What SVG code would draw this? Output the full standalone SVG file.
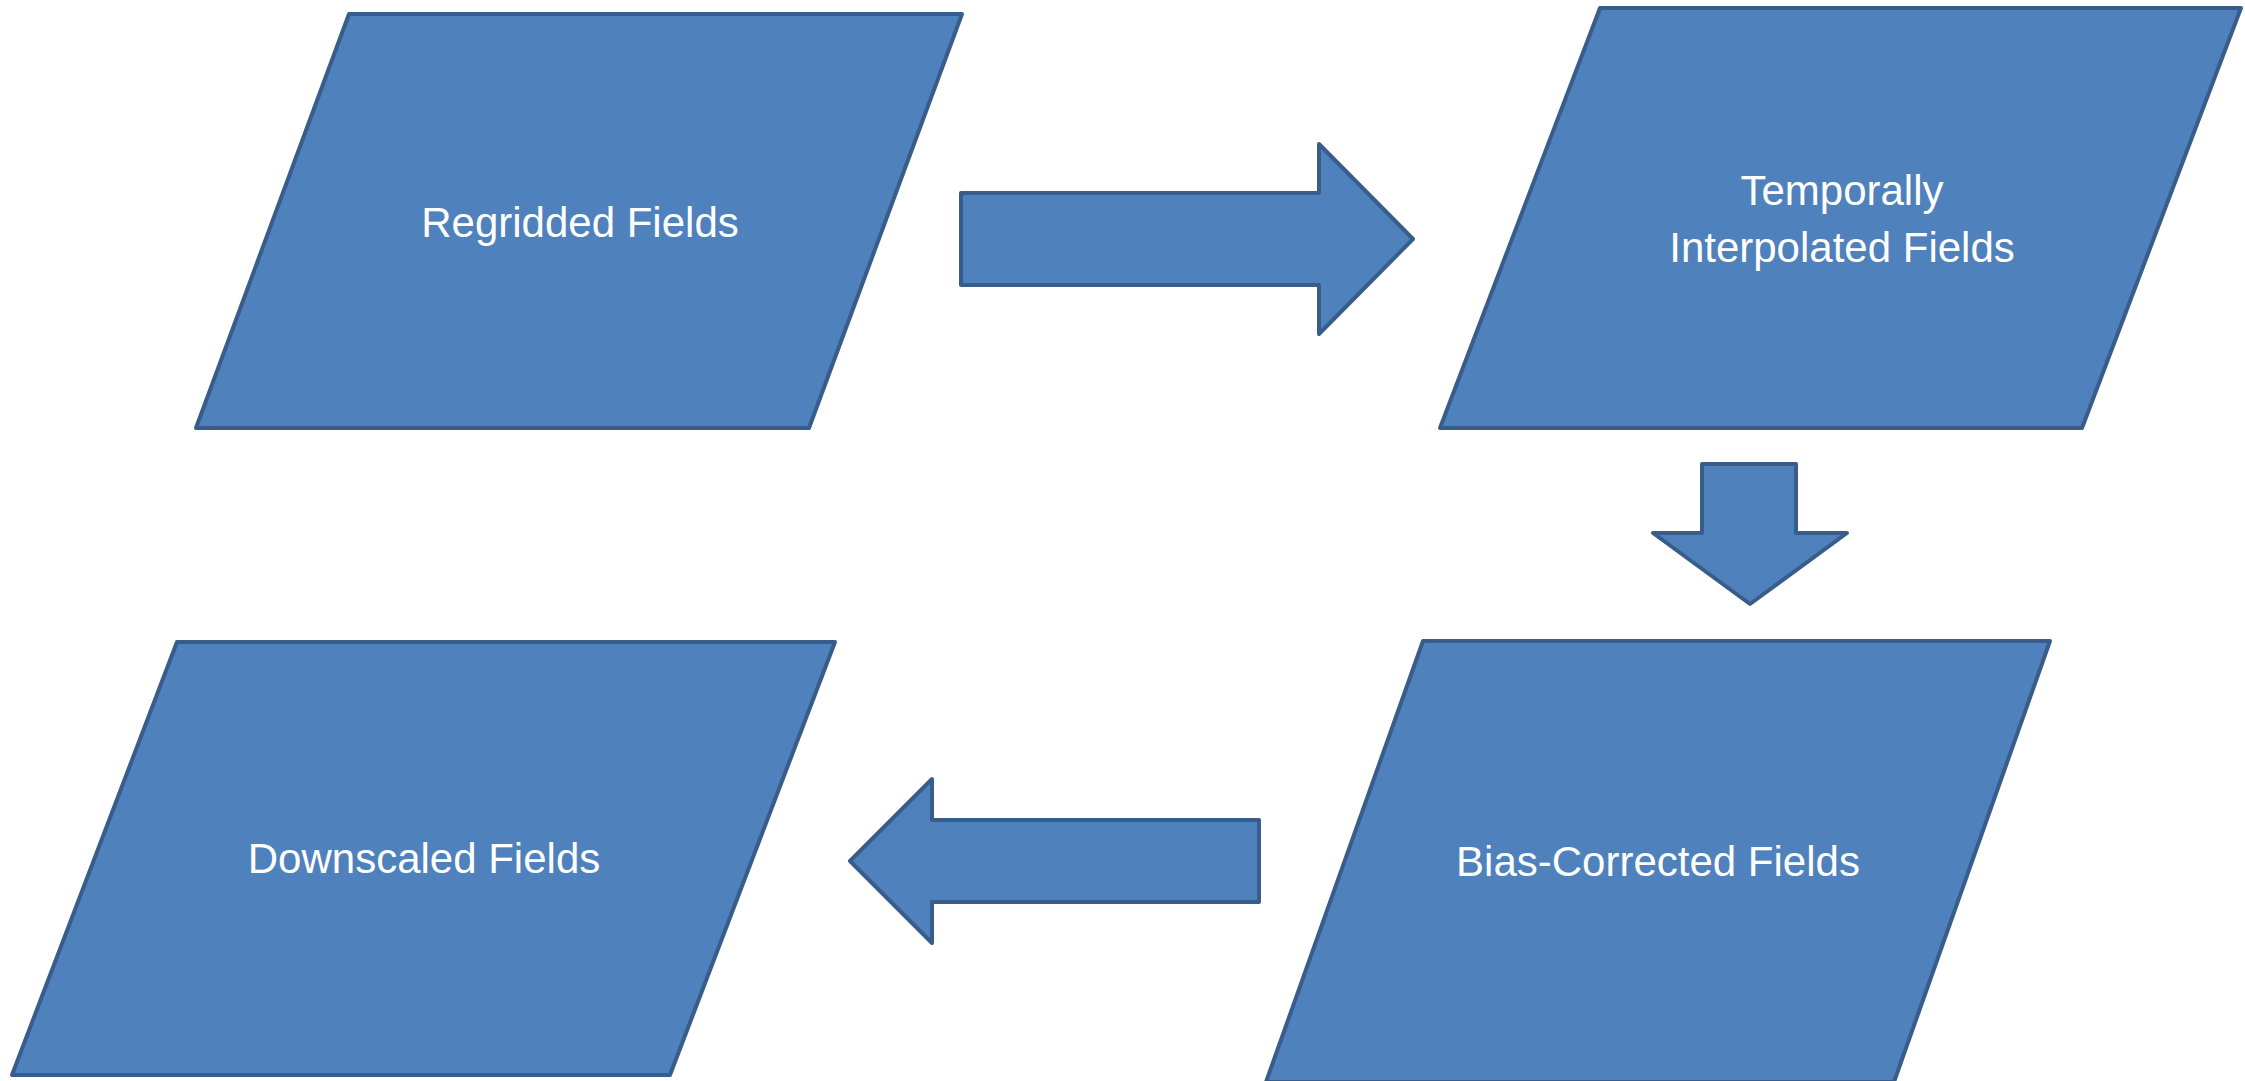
<svg xmlns="http://www.w3.org/2000/svg" width="2245" height="1081" viewBox="0 0 2245 1081">
<style>
.shape{fill:#4F81BD;stroke:#385D8A;stroke-width:4;stroke-linejoin:round}
.label{fill:#FFFFFF;font-family:"Liberation Sans",Arial,sans-serif;font-size:42px;text-anchor:middle}
</style>
<rect width="2245" height="1081" fill="#FFFFFF"/>
<g id="node-regridded">
<polygon class="shape" points="349,14 962,14 809,428 196,428"/>
<text class="label" x="580" y="237">Regridded Fields</text>
</g>
<g id="node-temporal">
<polygon class="shape" points="1600,8 2241,8 2082,428 1440,428"/>
<text class="label" x="1842" y="205">Temporally</text>
<text class="label" x="1842" y="262">Interpolated Fields</text>
</g>
<g id="node-bias">
<polygon class="shape" points="1423,641 2050,641 1894,1082 1266,1082"/>
<text class="label" x="1658" y="876">Bias-Corrected Fields</text>
</g>
<g id="node-downscaled">
<polygon class="shape" points="177,642 835,642 670,1075 12,1075"/>
<text class="label" x="424" y="873">Downscaled Fields</text>
</g>
<g id="connectors">
<polygon class="shape" points="961,193 1319,193 1319,144 1413,239 1319,334 1319,285 961,285"/>
<polygon class="shape" points="1702,464 1796,464 1796,533 1847,533 1750,604 1653,533 1702,533"/>
<polygon class="shape" points="1259,820 932,820 932,779 850,861 932,943 932,902 1259,902"/>
</g>
</svg>
